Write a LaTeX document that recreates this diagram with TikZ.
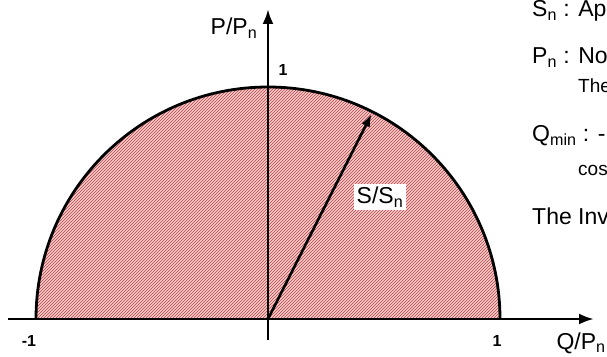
\documentclass[tikz,border=0pt]{standalone}
\usepackage{fontspec}
\setmainfont{Liberation Sans}
\usepackage{tikz}
\usetikzlibrary{arrows.meta,patterns}

\definecolor{hatchbg}{RGB}{244,206,198}
\definecolor{hatchline}{RGB}{190,62,80}

\tikzset{
  axis/.style={line width=2.8pt,-{Latex[length=15pt,width=11pt]}},
  lbl/.style={font=\fontsize{23}{27}\selectfont},
  tick/.style={font=\fontsize{16}{19}\selectfont\bfseries},
  note/.style={font=\fontsize{23}{27}\selectfont,anchor=base west,inner sep=0pt},
  subnote/.style={font=\fontsize{19}{22}\selectfont,anchor=base west,inner sep=0pt}
}

\begin{document}
\begin{tikzpicture}[x=1pt,y=1pt]
\clip (-268,-37) rectangle (339,319);
\fill[white] (-268,-37) rectangle (339,319);

% capability area
\fill[hatchbg] (232,0) arc (0:180:232) -- cycle;
\fill[pattern=north east lines,pattern color=hatchline] (232,0) arc (0:180:232) -- cycle;
\draw[line width=2.8pt] (232,0) arc (0:180:232);

% axes
\coordinate (O) at (0,0);
\coordinate (xs) at (-260,0);
\coordinate (xe) at (326,0);
\coordinate (ys) at (0,-21);
\coordinate (ye) at (0,310);
\draw[axis] (xs) -- (xe);
\draw[axis] (ys) -- (ye);

% apparent power vector
\coordinate (S) at (63.2:230);
\draw[line width=2.6pt,-{Latex[length=13pt,width=9pt]}] (O) -- (S);
\node[lbl,fill=white,inner sep=3pt] (slabel) at (112,122) {S/S\textsubscript{n}};

% axis labels
\node[lbl] (ylabel) at (-34,291) {P/P\textsubscript{n}};
\node[lbl,anchor=west] (xlabel) at (285,-24) {Q/P\textsubscript{n}};
\node[tick] (yone) at (15,249) {1};
\node[tick] (xone) at (229,-22) {1};
\node[tick] (xmone) at (-239,-22) {-1};

% legend text
\node[note] (sn) at (264,302) {S\textsubscript{n} : Ap};
\node[note] (pn) at (264,255) {P\textsubscript{n} : No};
\node[subnote] (pnsub) at (310,226) {The};
\node[note] (qmin) at (264,177) {Q\textsubscript{min} : -};
\node[subnote] (qminsub) at (310,143) {cos};
\node[note] (inv) at (264,94) {The Inv};
\end{tikzpicture}
\end{document}
